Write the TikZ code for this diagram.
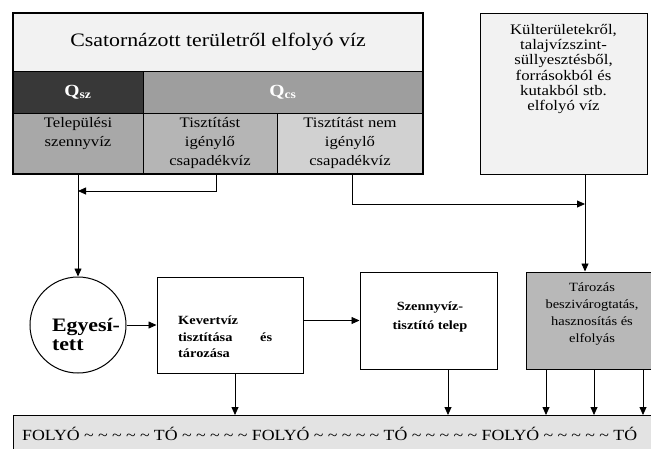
\documentclass[tikz,border=0pt]{standalone}
\usepackage{fontspec}
\setmainfont{Liberation Serif}[FakeStretch=1.15]
\usetikzlibrary{arrows.meta}
\definecolor{titlebg}{gray}{0.95}
\definecolor{qszbg}{gray}{0.22}
\definecolor{qcsbg}{gray}{0.62}
\definecolor{cellA}{gray}{0.66}
\definecolor{cellB}{gray}{0.71}
\definecolor{cellC}{gray}{0.82}
\definecolor{rightbg}{gray}{0.95}
\definecolor{tarbg}{gray}{0.72}
\definecolor{bandbg}{gray}{0.89}
\newcommand{\tld}{\textasciitilde}
\begin{document}
\begin{tikzpicture}[x=1pt,y=-1pt,
  cell/.style={draw, line width=0.8pt, inner sep=0pt, align=center},
  box/.style={draw, line width=1pt, inner sep=0pt},
  arr/.style={line width=0.8pt, -{Triangle[length=8pt,width=7pt]}},
  txt/.style={inner sep=0pt, align=center}]
\useasboundingbox (0,0) rectangle (651,448);
% top-left table
\node[cell, fill=titlebg, minimum width=410pt, minimum height=58pt,
  font={\fontsize{19}{22}\selectfont}] (title) at (218,42)
  {Csatornázott területről elfolyó víz};
\node[cell, fill=qszbg, minimum width=130pt, minimum height=42pt, text=white,
  font={\fontsize{17}{18}\selectfont\bfseries}] (qsz) at (78,92) {Q\textsubscript{sz}};
\node[cell, fill=qcsbg, minimum width=280pt, minimum height=42pt, text=white,
  font={\fontsize{17}{18}\selectfont\bfseries}] (qcs) at (283,92) {Q\textsubscript{cs}};
\node[cell, fill=cellA, minimum width=130pt, minimum height=61pt] (A) at (78,143.5) {};
\node[cell, fill=cellB, minimum width=134pt, minimum height=61pt] (B) at (210,143.5) {};
\node[cell, fill=cellC, minimum width=146pt, minimum height=61pt] (C) at (350,143.5) {};
\tikzset{celltxt/.style={txt, anchor=north, font={\fontsize{14.5}{19}\selectfont}}}
\node[celltxt] (Atext) at (78,117.5) {Települési\\szennyvíz};
\node[celltxt] (Btext) at (210,117.5) {Tisztítást\\igénylő\\csapadékvíz};
\node[celltxt] (Ctext) at (350,117.5) {Tisztítást nem\\igénylő\\csapadékvíz};
\draw[line width=1.1pt] (13,13) rectangle (423,174);
% right box
\node[box, fill=rightbg, minimum width=167pt, minimum height=161pt] (R) at (563.5,93.5) {};
\node[txt, font={\fontsize{14.6}{15.2}\selectfont}] (Rtext) at (563.5,69)
  {Külterületekről,\\talajvízszint-\\süllyesztésből,\\forrásokból és\\kutakból stb.\\elfolyó víz};
% middle row
\node[box, circle, minimum size=96pt] (E) at (78,325) {};
\node[txt, align=left, font={\fontsize{19}{19}\selectfont\bfseries}] (Etext) at (86,334) {Egyesí-\\tett};
\node[box, minimum width=146pt, minimum height=96pt] (K) at (230,325) {};
\node[txt, align=left, anchor=west, font={\fontsize{12.5}{16.7}\selectfont\bfseries}] (Ktext) at (178,337)
  {Kevertvíz\\\hbox to 94pt{tisztítása\hfill és}\\tározása};
\node[box, minimum width=137pt, minimum height=97pt] (S) at (428.5,320.5) {};
\node[txt, font={\fontsize{12.5}{19}\selectfont\bfseries}] (Stext) at (430,316.5) {Szennyvíz-\\tisztító telep};
\node[box, fill=tarbg, minimum width=127pt, minimum height=97pt] (T) at (589.5,320.5) {};
\node[txt, font={\fontsize{12.6}{17}\selectfont}] (Ttext) at (592,314) {Tározás\\beszivárogtatás,\\hasznosítás és\\elfolyás};
% bottom band
\node[box, fill=bandbg, minimum width=642pt, minimum height=36pt, anchor=north west] (W) at (13,415) {};
\node[txt, anchor=west, font={\fontsize{15.5}{18}\selectfont}] (Wtext) at (22,434) {\hbox to 615pt{FOLYÓ\hfil\tld\hfil\tld\hfil\tld\hfil\tld\hfil\tld\hfil TÓ\hfil\tld\hfil\tld\hfil\tld\hfil\tld\hfil\tld\hfil FOLYÓ\hfil\tld\hfil\tld\hfil\tld\hfil\tld\hfil\tld\hfil TÓ\hfil\tld\hfil\tld\hfil\tld\hfil\tld\hfil\tld\hfil FOLYÓ\hfil\tld\hfil\tld\hfil\tld\hfil\tld\hfil\tld\hfil TÓ}};
% connectors
\coordinate (J1) at (78,191);
\coordinate (J2) at (585,204);
\draw[arr] (A.south) -- (E.north);
\draw[arr] ([xshift=6pt]B.south) |- (J1);
\draw[arr] ([xshift=2pt]C.south) |- (J2);
\draw[arr] ([xshift=21.5pt]R.south) -- ([xshift=-4.5pt]T.north);
\draw[arr] (E.east) -- (K.west);
\draw[arr] (K.east |- S.west) -- (S.west);
\draw[arr] ([xshift=5pt]K.south) -- ([xshift=5pt]K.south |- W.north);
\draw[arr] ([xshift=19.5pt]S.south) -- ([xshift=19.5pt]S.south |- W.north);
\draw[arr] ([xshift=-43.5pt]T.south) -- ([xshift=-43.5pt]T.south |- W.north);
\draw[arr] ([xshift=4.5pt]T.south) -- ([xshift=4.5pt]T.south |- W.north);
\draw[arr] ([xshift=53.5pt]T.south) -- ([xshift=53.5pt]T.south |- W.north);
\end{tikzpicture}
\end{document}
